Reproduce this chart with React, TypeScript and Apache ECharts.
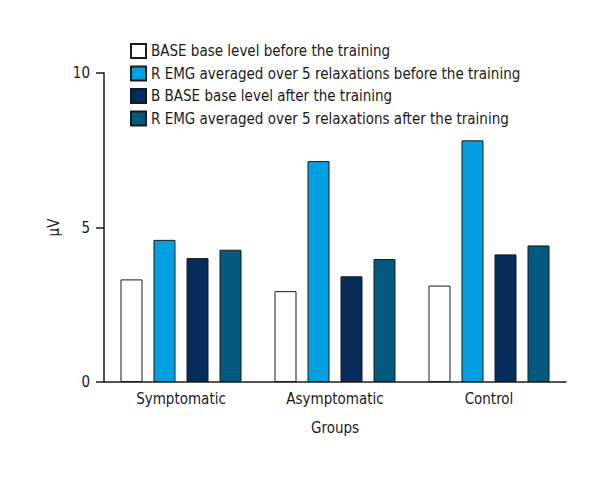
import React, { useEffect, useRef } from "react";
import * as echarts from "echarts";

const categories = ["Symptomatic", "Asymptomatic", "Control"];
const seriesNames = [
  "BASE base level before the training",
  "R EMG averaged over 5 relaxations before the training",
  "B BASE base level after the training",
  "R EMG averaged over 5 relaxations after the training",
];
const baseBefore = [3.32, 2.94, 3.12];
const remgBefore = [4.6, 7.15, 7.82];
const baseAfter = [4.01, 3.42, 4.13];
const remgAfter = [4.28, 3.98, 4.42];
const colors = ["#ffffff", "#049fe0", "#062d5a", "#035a7e"];
const yTicks = [0, 5, 10];

const FONT = "'DejaVu Sans Condensed', 'Liberation Sans Narrow', sans-serif";

export default function App() {
  const ref = useRef<HTMLDivElement>(null);
  useEffect(() => {
    document.body.style.margin = "0";
    const chart = echarts.init(ref.current!, null, { renderer: "svg" });
    const values = [baseBefore, remgBefore, baseAfter, remgAfter];
    chart.setOption({
      animation: false,
      backgroundColor: "#ffffff",
      textStyle: { fontFamily: FONT },
      legend: {
        orient: "vertical",
        left: 125,
        top: 38,
        itemWidth: 15,
        itemHeight: 14,
        itemGap: 6.5,
        icon: "rect",
        textStyle: { fontSize: 15, color: "#1a1a1a", fontFamily: FONT },
        data: seriesNames,
      },
      grid: { left: 104, top: 73, width: 462, bottom: 98 },
      xAxis: {
        type: "category",
        data: categories,
        name: "Groups",
        nameLocation: "middle",
        nameGap: 38,
        nameTextStyle: { fontSize: 15, color: "#1a1a1a", fontFamily: FONT },
        axisLine: { show: true, onZero: false, lineStyle: { color: "#1a1a1a", width: 1.5 } },
        axisTick: { show: false },
        axisLabel: { fontSize: 15, color: "#1a1a1a", margin: 9, fontFamily: FONT },
      },
      yAxis: {
        type: "value",
        min: yTicks[0],
        max: yTicks[yTicks.length - 1],
        interval: 5,
        name: "μV",
        nameLocation: "middle",
        nameGap: 42,
        nameTextStyle: { fontSize: 15, color: "#1a1a1a", fontFamily: FONT },
        axisLine: { show: true, onZero: false, lineStyle: { color: "#1a1a1a", width: 1.5 } },
        axisTick: { show: true, inside: false, length: 8, lineStyle: { color: "#1a1a1a", width: 1.5 } },
        axisLabel: { fontSize: 15, color: "#1a1a1a", margin: 14, fontFamily: FONT },
        splitLine: { show: false },
      },
      series: seriesNames.map((name, i) => ({
        name,
        type: "bar",
        data: values[i],
        barWidth: 22,
        barGap: "50%",
        itemStyle: { color: colors[i], borderColor: "#1a1a1a", borderWidth: 1 },
      })),
    });
    return () => chart.dispose();
  }, []);
  return <div ref={ref} style={{ width: 610, height: 480 }} />;
}
